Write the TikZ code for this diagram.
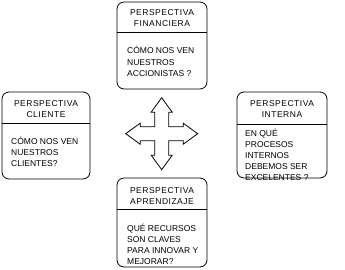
\documentclass[tikz,border=0pt]{standalone}
\usepackage{fontspec}
\setmainfont{Liberation Sans}
\newfontfamily\ttlfont[LetterSpace=6]{Liberation Sans}
\begin{document}
\begin{tikzpicture}[x=1pt,y=-1pt,
  box/.style={draw,line width=0.8pt,rounded corners=7pt},
  ttl/.style={font=\ttlfont\fontsize{8.5}{11}\selectfont,align=center,inner sep=0pt,anchor=base},
  body/.style={font=\fontsize{8.5}{11}\selectfont,align=left,inner sep=0pt,anchor=base west},
  div/.style={line width=0.8pt}]
\useasboundingbox (0,0) rectangle (345,270);
% top box
\coordinate (finA) at (117,2); \coordinate (finB) at (207,89);
\draw[box] (finA) rectangle (finB);
\draw[div] (finA |- 0,32) -- (finB |- 0,32);
\node[ttl] (fint) at (162,27) {PERSPECTIVA\\FINANCIERA};
\node[body] (finb) at (127,76) {CÓMO NOS VEN\\NUESTROS\\ACCIONISTAS ?};
% left box
\coordinate (cliA) at (2,92); \coordinate (cliB) at (90,179);
\draw[box] (cliA) rectangle (cliB);
\draw[div] (cliA |- 0,123) -- (cliB |- 0,123);
\node[ttl] (clit) at (46,117) {PERSPECTIVA\\CLIENTE};
\node[body] (clib) at (11,166) {CÓMO NOS VEN\\NUESTROS\\CLIENTES?};
% right box
\coordinate (intA) at (237,92); \coordinate (intB) at (327,178);
\draw[box] (intA) rectangle (intB);
\draw[div] (intA |- 0,124) -- (intB |- 0,124);
\node[ttl] (intt) at (282,117) {PERSPECTIVA\\INTERNA};
\node[body] (intb) at (245,180) {EN QUÉ\\PROCESOS\\INTERNOS\\DEBEMOS SER\\EXCELENTES ?};
% bottom box
\coordinate (aprA) at (117,178); \coordinate (aprB) at (207,267);
\draw[box] (aprA) rectangle (aprB);
\draw[div] (aprA |- 0,209) -- (aprB |- 0,209);
\node[ttl] (aprt) at (162,204) {PERSPECTIVA\\APRENDIZAJE};
\node[body] (aprb) at (127,264) {QUÉ RECURSOS\\SON CLAVES\\PARA INNOVAR Y\\MEJORAR?};
% four-way arrow
\def\qa{36}\def\qh{21.5}\def\qw{7}\def\qW{10.5}
\draw[line width=0.8pt,shift={(161.7,133.7)}]
  (0,-\qa) -- (\qW,-\qh) -- (\qw,-\qh) -- (\qw,-\qw) -- (\qh,-\qw) -- (\qh,-\qW) --
  (\qa,0) -- (\qh,\qW) -- (\qh,\qw) -- (\qw,\qw) -- (\qw,\qh) -- (\qW,\qh) --
  (0,\qa) -- (-\qW,\qh) -- (-\qw,\qh) -- (-\qw,\qw) -- (-\qh,\qw) -- (-\qh,\qW) --
  (-\qa,0) -- (-\qh,-\qW) -- (-\qh,-\qw) -- (-\qw,-\qw) -- (-\qw,-\qh) -- (-\qW,-\qh) -- cycle;
\end{tikzpicture}
\end{document}
